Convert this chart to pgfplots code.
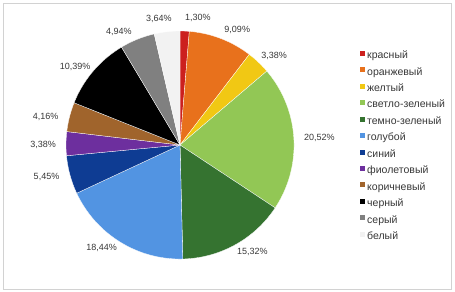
\documentclass[border=0pt]{standalone}
\usepackage{pgfplots}
\pgfplotsset{compat=1.18}
\usepackage{fontspec}
\setmainfont{Liberation Sans}
\definecolor{cred}{RGB}{204,32,30}
\definecolor{corange}{RGB}{232,113,28}
\definecolor{cyellow}{RGB}{241,200,20}
\definecolor{clgreen}{RGB}{146,199,85}
\definecolor{cdgreen}{RGB}{53,115,48}
\definecolor{clblue}{RGB}{82,148,226}
\definecolor{cblue}{RGB}{14,60,147}
\definecolor{cviolet}{RGB}{109,47,158}
\definecolor{cbrown}{RGB}{160,100,44}
\definecolor{cblack}{RGB}{0,0,0}
\definecolor{cgray}{RGB}{128,128,128}
\definecolor{cwhite}{RGB}{242,242,242}
\definecolor{txt}{RGB}{55,55,55}
\definecolor{frame}{RGB}{210,210,210}
\newcommand\cum{0}
% #1 percent, #2 colour, #3 legend text, #4 label angle tweak (deg)
\newcommand\slice[4]{%
  \pgfmathsetmacro\sa{\cum*3.6}%
  \pgfmathsetmacro\newcum{\cum+#1}%
  \pgfmathsetmacro\ea{\newcum*3.6}%
  \pgfmathsetmacro\ma{90-(\sa+\ea)/2+#4}%
  \pgfmathsetmacro\lx{1.088*cos(\ma)}%
  \pgfmathsetmacro\ly{1.088*sin(\ma)}%
  \pgfmathsetmacro\an{mod(\ma+540,360)}%
  \edef\doslice{%
    \noexpand\addplot[fill=#2, draw=white, line width=0.3pt, domain=\sa:\ea, samples=60]
      ({sin(x)},{cos(x)}) -- (axis cs:0,0) -- cycle;
    \noexpand\addlegendentry{#3}
    \noexpand\node[anchor=\an, inner sep=0pt, font=\noexpand\fontsize{9}{10}\noexpand\selectfont, text=txt]
      at (axis cs:\lx,\ly) {\noexpand\pgfmathprintnumber[fixed,fixed zerofill,precision=2,use comma,assume math mode=true]{#1}\noexpand\%};
  }%
  \doslice
  \xdef\cum{\newcum}%
}
\begin{document}
\begin{tikzpicture}
\begin{axis}[
  x=114pt, y=114pt,
  xmin=-1.579, xmax=2.412, ymin=-1.289, ymax=1.272,
  hide axis, clip=false,
  legend cell align=left,
  legend image code/.code={\fill[#1,draw=none] (0pt,0pt) rectangle (5pt,5pt);},
  legend style={at={(axis description cs:0.7912,0.8264)}, anchor=north west,
    draw=none, fill=none, inner sep=0pt, row sep=6.7pt, column sep=2pt,
    font=\fontsize{10.5}{12}\selectfont, text=txt,
    nodes={inner sep=0pt, text height=7.5pt, text depth=2pt}},
]
\path (rel axis cs:0,0) rectangle (rel axis cs:1,1);
\draw[frame, line width=0.8pt] ([shift={(3pt,3pt)}]rel axis cs:0,0) rectangle ([shift={(-3.5pt,-3.5pt)}]rel axis cs:1,1);
\slice{1.30}{cred}{красный}{-5.7}
\slice{9.09}{corange}{оранжевый}{-5.4}
\slice{3.38}{cyellow}{желтый}{-2.9}
\slice{20.52}{clgreen}{светло-зеленый}{-0.5}
\slice{15.32}{cdgreen}{темно-зеленый}{5.2}
\slice{18.44}{clblue}{голубой}{-5.6}
\slice{5.45}{cblue}{синий}{-1.6}
\slice{3.38}{cviolet}{фиолетовый}{0.7}
\slice{4.16}{cbrown}{коричневый}{2.3}
\slice{10.39}{cblack}{черный}{4}
\slice{4.94}{cgray}{серый}{6.5}
\slice{3.64}{cwhite}{белый}{3}
\end{axis}
\end{tikzpicture}
\end{document}
